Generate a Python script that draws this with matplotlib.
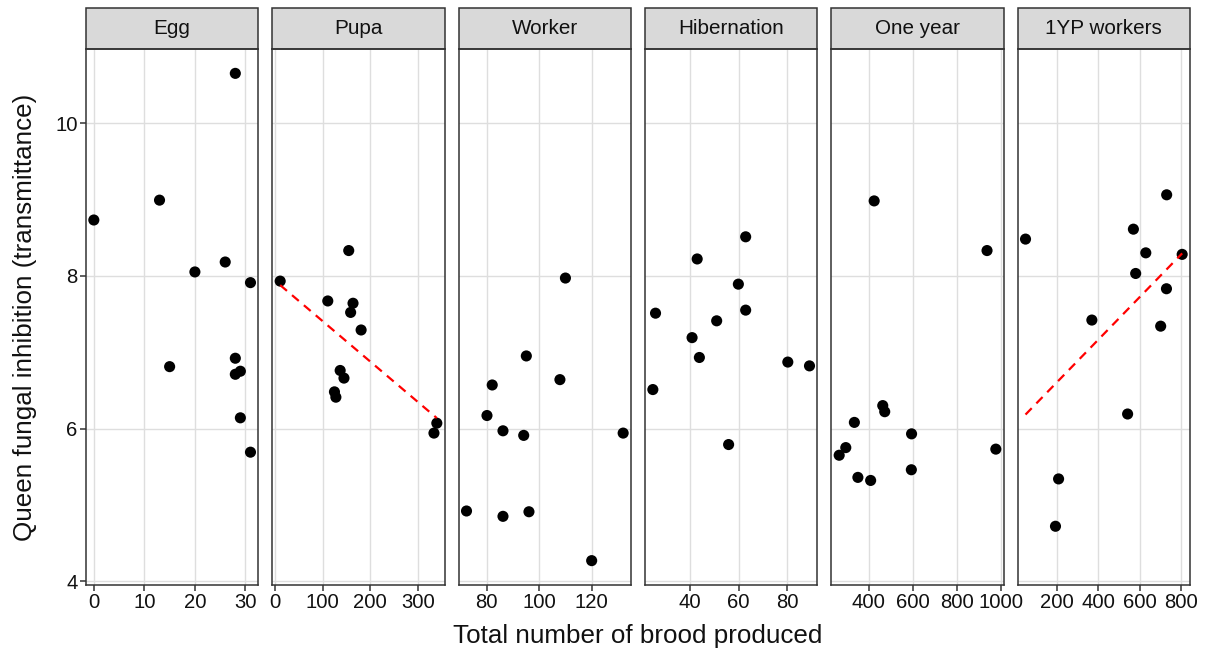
import matplotlib
matplotlib.use("Agg")
import matplotlib.pyplot as plt
import numpy as np
from matplotlib.patches import Rectangle

plt.rcParams["font.family"] = ["Liberation Sans", "DejaVu Sans"]

stages = ["Egg", "Pupa", "Worker", "Hibernation", "One year", "1YP workers"]

egg_x = [0, 13, 15, 20, 26, 28, 31, 28, 28, 29, 29, 31]
egg_y = [8.73, 8.99, 6.81, 8.05, 8.18, 10.65, 7.91, 6.92, 6.71, 6.75, 6.14, 5.69]

pupa_x = [11, 155, 111, 164, 159, 181, 137, 145, 125, 128, 340, 334]
pupa_y = [7.93, 8.33, 7.67, 7.64, 7.52, 7.29, 6.76, 6.66, 6.48, 6.41, 6.07, 5.94]

worker_x = [110, 95.1, 82.1, 107.9, 80.1, 86.2, 94.1, 132, 72.3, 86.2, 96.1, 120]
worker_y = [7.97, 6.95, 6.57, 6.64, 6.17, 5.97, 5.91, 5.94, 4.92, 4.85, 4.91, 4.27]

hib_x = [62.9, 43.0, 59.9, 25.9, 62.9, 51.0, 40.9, 43.9, 80.2, 89.1, 24.8, 55.9]
hib_y = [8.51, 8.22, 7.89, 7.51, 7.55, 7.41, 7.19, 6.93, 6.87, 6.82, 6.51, 5.79]

year_x = [424, 937, 463, 472, 334, 594, 295, 265, 977, 350, 408, 593]
year_y = [8.98, 8.33, 6.30, 6.22, 6.08, 5.93, 5.75, 5.65, 5.73, 5.36, 5.32, 5.46]

yp_x = [731, 570, 48, 630, 806, 581, 730, 369, 702, 542, 208, 193]
yp_y = [9.06, 8.61, 8.48, 8.30, 8.28, 8.03, 7.83, 7.42, 7.34, 6.19, 5.34, 4.72]

xs = [egg_x, pupa_x, worker_x, hib_x, year_x, yp_x]
ys = [egg_y, pupa_y, worker_y, hib_y, year_y, yp_y]

x_ticks = [
    [0, 10, 20, 30],
    [0, 100, 200, 300],
    [80, 100, 120],
    [40, 60, 80],
    [400, 600, 800, 1000],
    [200, 400, 600, 800],
]
y_ticks = [4, 6, 8, 10]

# stages with a significant linear trend get a fitted line
with_fit = {"Pupa", "1YP workers"}

edge = "#333333"
grid = "#DEDEDE"
txt = "#111111"

fig, axes = plt.subplots(
    1, 6, figsize=(12.08, 6.5), dpi=100, sharey=True,
    gridspec_kw={"wspace": 0.0814},
)
fig.subplots_adjust(left=86 / 1208, right=1190 / 1208, top=1 - 49 / 650, bottom=1 - 585 / 650)

all_y = np.concatenate([np.asarray(v, float) for v in ys])
ypad = (all_y.max() - all_y.min()) * 0.05
strip_h = 41 / 536

for ax, name, x, y, ticks in zip(axes, stages, xs, ys, x_ticks):
    x = np.asarray(x, float)
    y = np.asarray(y, float)
    xpad = (x.max() - x.min()) * 0.05
    ax.set_xlim(x.min() - xpad, x.max() + xpad)
    ax.set_ylim(all_y.min() - ypad, all_y.max() + ypad)

    ax.set_axisbelow(True)
    ax.grid(True, color=grid, linewidth=1.0)
    for sp in ax.spines.values():
        sp.set_color(edge)
        sp.set_linewidth(1.1)

    ax.scatter(x, y, s=64, color="black", edgecolors="none", zorder=3)

    if name in with_fit:
        slope, inter = np.polyfit(x, y, 1)
        fx = np.array([x.min(), x.max()])
        ax.plot(fx, inter + slope * fx, color="red", linestyle=(0, (4, 3)),
                linewidth=1.6, zorder=4)

    ax.set_xticks(ticks)
    ax.tick_params(axis="x", length=4, width=1.1, color=edge, labelsize=14.6,
                   labelcolor=txt, pad=2)
    ax.tick_params(axis="y", length=4, width=1.1, color=edge, labelsize=14.6,
                   labelcolor=txt, pad=2)

    ax.add_patch(Rectangle((0, 1), 1, strip_h, transform=ax.transAxes,
                           clip_on=False, facecolor="#D9D9D9", edgecolor=edge,
                           linewidth=1.1))
    ax.text(0.5, 1 + strip_h / 2, name, transform=ax.transAxes, ha="center",
            va="center", fontsize=14.9, color=txt)

axes[0].set_yticks(y_ticks)
for ax in axes[1:]:
    ax.tick_params(axis="y", left=False, labelleft=False)

fig.text(638 / 1208, 1 - 636 / 650, "Total number of brood produced",
         ha="center", va="center", fontsize=18.7, color=txt)
fig.text(25 / 1208, 1 - 317 / 650, "Queen fungal inhibition (transmittance)",
         ha="center", va="center", rotation=90, fontsize=18.7, color=txt)

fig.savefig("out.png", dpi=100)
